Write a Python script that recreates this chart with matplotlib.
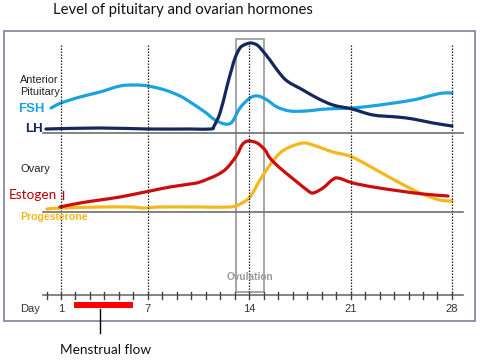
import numpy as np
import matplotlib
matplotlib.use("Agg")
import matplotlib.pyplot as plt
from matplotlib.patches import Rectangle, PathPatch
from matplotlib.path import Path

# ---- data: hormone levels (arbitrary units, height above each panel baseline) ----
FSH_DAY = [0.31, 1.0, 2.31, 3.69, 5.07, 6.11, 7.01, 8.18, 9.22, 9.91, 10.94, 11.64, 12.33,
           12.81, 13.36, 14.05, 14.60, 15.23, 15.92, 16.81, 17.9, 19.3, 21.1, 23.0, 25.3,
           26.7, 27.4, 28.0]
FSH_LVL = [25, 30, 36, 41, 47, 48, 47, 43, 37, 31, 21, 13, 9,
           11, 25, 35, 37, 33, 26, 22, 22, 24, 25, 28, 33, 38, 40, 40]

LH_DAY = [-0.04, 3.69, 7.01, 9.91, 11.36, 11.57, 11.98, 12.40, 12.54, 12.81, 13.02, 13.36,
          13.71, 14.12, 14.54, 14.88, 15.43, 15.98, 16.61, 17.71, 18.68, 19.78, 21.10,
          22.55, 24.20, 25.31, 26.69, 28.0]
LH_LVL = [4, 5, 4, 4, 4, 7, 20, 43, 51, 65, 75, 85,
          88.5, 90, 88, 83, 73, 62, 52, 43, 35, 28, 24,
          18, 16, 14, 10, 7]

EST_DAY = [0.93, 2.31, 3.69, 5.07, 6.46, 7.15, 8.53, 9.91, 10.60, 11.77, 12.46, 13.15,
           13.50, 13.91, 14.54, 15.09, 15.43, 16.12, 17.30, 17.99, 18.40, 19.09, 19.72,
           20.13, 21.17, 22.55, 24.41, 26.00, 27.73]
EST_LVL = [5, 9, 12, 15, 19, 21, 25, 28, 30, 37, 44, 57,
           67, 71, 69, 62, 54, 44, 30, 22, 19, 24, 32,
           34, 29, 25, 21, 18, 16]

PRO_DAY = [0.03, 1.0, 3.69, 5.77, 6.80, 7.84, 10.60, 12.67, 13.36, 14.05, 14.74, 15.43,
           16.12, 16.81, 17.71, 18.40, 19.78, 21.10, 23.03, 24.41, 25.79, 27.17, 28.0]
PRO_LVL = [3, 4, 5, 5, 4, 5, 5, 5, 8, 15, 32, 47,
           59, 65, 69, 67, 60, 55, 40, 29, 19, 12, 11]

MARK_DAYS = [1, 7, 14, 21, 28]
TICK_DAYS = list(range(0, 29))
MENSES = (1.9, 5.97)
OVULATION = (13.09, 15.02)

# colours
C_FSH = '#1ba3e0'
C_LH = '#15285e'
C_EST = '#cc0d0d'
C_PRO = '#f5b81c'
C_GRID = '#6e6e6e'

# layout (figure rows in px from the top)
PIT_BASE = 133
OVA_BASE = 212
AXIS_Y = 295

fig = plt.figure(figsize=(4.82, 3.62), dpi=100)
ax = fig.add_axes([0, 0, 1, 1])
ax.set_xlim(-3.213, 30.075)
ax.set_ylim(362, 0)
ax.axis('off')


def smooth_curve(ax, xs, ys, color):
    """draw a curve through the points as bezier segments (catmull-rom style)"""
    # work in display space so the tangents are not distorted by the aspect
    pts = ax.transData.transform(np.column_stack([xs, ys]))
    n = len(pts)
    verts = [pts[0]]
    codes = [Path.MOVETO]
    for i in range(n - 1):
        p0 = pts[i - 1] if i > 0 else pts[i]
        p1, p2 = pts[i], pts[i + 1]
        p3 = pts[i + 2] if i + 2 < n else pts[i + 1]
        c1 = p1 + (p2 - p0) / 6.0
        c2 = p2 - (p3 - p1) / 6.0
        verts += [c1, c2, p2]
        codes += [Path.CURVE4] * 3
    verts = ax.transData.inverted().transform(np.array(verts))
    ax.add_patch(PathPatch(Path(verts, codes), fill=False, edgecolor=color, lw=2.3,
                           joinstyle='round', capstyle='round'))


# outer frame
ax.add_patch(Rectangle((-3.213 + 4 / 14.48, 31), 471 / 14.48, 290, fill=False,
                       edgecolor='#7d8199', lw=1.2))

# dotted day lines
for d in MARK_DAYS:
    ax.plot([d, d], [45, AXIS_Y], color='#222222', lw=0.9, linestyle=(0, (1.2, 1.2)))

# ovulation box
ax.add_patch(Rectangle((OVULATION[0], 39), OVULATION[1] - OVULATION[0], 253,
                       fill=False, edgecolor='#a6a6a6', lw=1.4))

# separators + day axis
for yy in (PIT_BASE, OVA_BASE, AXIS_Y):
    ax.plot([-0.243, 28.76], [yy, yy], color=C_GRID, lw=1.2)
for d in TICK_DAYS:
    ax.plot([d, d], [AXIS_Y - 3.5, AXIS_Y + 3.5], color='#444444', lw=1.0)

# hormone curves
smooth_curve(ax, FSH_DAY, PIT_BASE - np.array(FSH_LVL), C_FSH)
smooth_curve(ax, LH_DAY, PIT_BASE - np.array(LH_LVL), C_LH)
smooth_curve(ax, PRO_DAY, OVA_BASE - np.array(PRO_LVL), C_PRO)
smooth_curve(ax, EST_DAY, OVA_BASE - np.array(EST_LVL), C_EST)

# text
sans = ['Liberation Sans', 'DejaVu Sans']
cal = ['Lato', 'DejaVu Sans']


def px(x):
    return 1 + (x - 61) / 14.48


ax.text(px(53), 10, 'Level of pituitary and ovarian hormones', family=cal, fontsize=10.7,
        va='center', ha='left', color='#111111')
ax.text(px(20), 86, 'Anterior\nPituitary', family=sans, fontsize=7.8, va='center', ha='left',
        color='#222222', linespacing=1.2)
ax.text(px(18), 109, 'FSH', family=sans, fontsize=9.5, fontweight='bold', va='center',
        ha='left', color=C_FSH)
ax.text(px(25), 129, 'LH', family=sans, fontsize=9.5, fontweight='bold', va='center',
        ha='left', color=C_LH)
ax.text(px(20), 169, 'Ovary', family=sans, fontsize=8, va='center', ha='left', color='#222222')
ax.text(px(9), 195, 'Estogen', family=cal, fontsize=9.8, va='center', ha='left', color='#c00000')
ax.plot([px(63), px(63)], [191, 199], color='#c00000', lw=1.0)
ax.text(px(20), 217, 'Progesterone', family=sans, fontsize=7.6, fontweight='bold',
        va='center', ha='left', color=C_PRO)
ax.text(sum(OVULATION) / 2, 277, 'Ovulation', family=sans, fontsize=7.3, fontweight='bold',
        va='center', ha='center', color='#9a9a9a')

ax.text(px(20), 309, 'Day', family=sans, fontsize=8, va='center', ha='left', color='#333333')
for d in MARK_DAYS:
    ax.text(d, 309, str(d), family=sans, fontsize=8, va='center', ha='center', color='#333333')

# menstrual flow
ax.plot(list(MENSES), [305, 305], color='#ff0000', lw=4.3, solid_capstyle='butt')
ax.plot([px(100), px(100)], [309, 333], color='black', lw=1.0)
ax.text(px(106), 350, 'Menstrual flow', family=cal, fontsize=9.8, va='center', ha='center',
        color='#111111')

fig.savefig('out.png', dpi=100)
